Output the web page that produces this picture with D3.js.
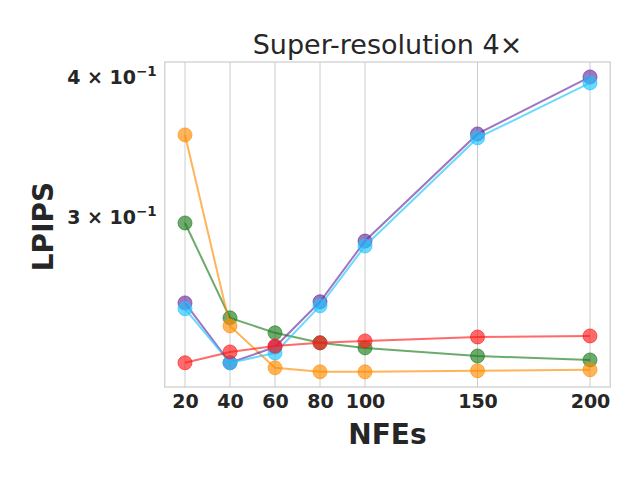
<!DOCTYPE html>
<html>
<head>
<meta charset="utf-8">
<script src="https://cdn.jsdelivr.net/npm/d3@7"></script>
<style>
  body { margin: 0; background: #fff; }
  text { font-family: "DejaVu Sans", sans-serif; fill: #262626; }
</style>
</head>
<body>
<div id="vis"></div>
<script>
// data
const NFES = [20, 40, 60, 80, 100, 150, 200];
const X_TICKS = [20, 40, 60, 80, 100, 150, 200];
const Y_TICKS = [0.3, 0.4];
const Y_TICK_LABELS = ["3", "4"];

const GREEN_VALS  = [0.2963, 0.2438, 0.2364, 0.2316, 0.2292, 0.2254, 0.2236];
const ORANGE_VALS = [0.3551, 0.2398, 0.2200, 0.2182, 0.2182, 0.2187, 0.2191];
const PURPLE_VALS = [0.2514, 0.2223, 0.2296, 0.2520, 0.2855, 0.3558, 0.4000];
const CYAN_VALS   = [0.2484, 0.2223, 0.2268, 0.2499, 0.2826, 0.3529, 0.3951];
const RED_VALS    = [0.2223, 0.2273, 0.2301, 0.2316, 0.2325, 0.2344, 0.2349];

const SERIES = [
  {vals: GREEN_VALS,  color: "#1e7d1e"},
  {vals: ORANGE_VALS, color: "#ff8c00"},
  {vals: PURPLE_VALS, color: "#6a2e9e"},
  {vals: CYAN_VALS,   color: "#1ec4ff"},
  {vals: RED_VALS,    color: "#ff1a1a"}
];

// frame
const FRAME_WIDTH = 640;
const FRAME_HEIGHT = 480;
const PLOT = {left: 164.75, right: 610.25, top: 62, bottom: 387};

const SVG = d3.select("#vis")
              .append("svg")
                .attr("width", FRAME_WIDTH)
                .attr("height", FRAME_HEIGHT);

// scales
const X_SCALE = d3.scaleLinear()
                  .domain([11, 209])
                  .range([PLOT.left, PLOT.right]);

const Y_SCALE = d3.scaleLog()
                  .domain([0.2115, 0.4125])
                  .range([PLOT.bottom, PLOT.top]);

// vertical grid lines
SVG.append("g")
    .selectAll("line")
    .data(X_TICKS)
    .enter()
    .append("line")
      .attr("x1", d => X_SCALE(d))
      .attr("x2", d => X_SCALE(d))
      .attr("y1", PLOT.top)
      .attr("y2", PLOT.bottom)
      .attr("stroke", "#cccccc")
      .attr("stroke-width", 1);

// frame border
SVG.append("rect")
    .attr("x", PLOT.left)
    .attr("y", PLOT.top)
    .attr("width", PLOT.right - PLOT.left)
    .attr("height", PLOT.bottom - PLOT.top)
    .attr("fill", "none")
    .attr("stroke", "#cccccc")
    .attr("stroke-width", 1.2);

// x axis labels
const X_AXIS = SVG.append("g")
    .attr("transform", "translate(0," + PLOT.bottom + ")")
    .call(d3.axisBottom(X_SCALE).tickValues(X_TICKS).tickSize(0).tickPadding(8));
X_AXIS.select(".domain").remove();
X_AXIS.attr("font-family", null).attr("font-size", null);
X_AXIS.selectAll("text")
    .style("font-family", "DejaVu Sans")
    .style("font-size", "19px")
    .style("font-weight", "bold")
    .style("fill", "#262626");

// y axis labels (log formatted)
const Y_LABELS = SVG.append("g")
    .selectAll("text")
    .data(Y_TICKS)
    .enter()
    .append("text")
      .attr("x", PLOT.left - 8)
      .attr("y", d => Y_SCALE(d) + 7)
      .attr("text-anchor", "end")
      .style("font-size", "19px")
      .style("font-weight", "bold");
Y_LABELS.append("tspan").text((d, i) => Y_TICK_LABELS[i] + " \u00d7 10");
Y_LABELS.append("tspan")
    .attr("dy", -8)
    .style("font-size", "13.5px")
    .text("\u22121");

// lines and markers
const LINE = d3.line()
               .x((d, i) => X_SCALE(NFES[i]))
               .y(d => Y_SCALE(d));

SERIES.forEach((s) => {
  const g = SVG.append("g");
  g.append("path")
      .datum(s.vals)
      .attr("d", LINE)
      .attr("fill", "none")
      .attr("stroke", s.color)
      .attr("stroke-opacity", 0.65)
      .attr("stroke-width", 2);
  g.selectAll("circle")
      .data(s.vals)
      .enter()
      .append("circle")
        .attr("cx", (d, i) => X_SCALE(NFES[i]))
        .attr("cy", d => Y_SCALE(d))
        .attr("r", 7)
        .attr("fill", s.color)
        .attr("fill-opacity", 0.65)
        .attr("stroke", s.color)
        .attr("stroke-opacity", 0.65)
        .attr("stroke-width", 1);
});

// title and axis titles
SVG.append("text")
    .attr("x", (PLOT.left + PLOT.right) / 2)
    .attr("y", 54)
    .attr("text-anchor", "middle")
    .style("font-size", "27px")
    .text("Super-resolution 4\u00d7");

SVG.append("text")
    .attr("x", (PLOT.left + PLOT.right) / 2)
    .attr("y", 444)
    .attr("text-anchor", "middle")
    .style("font-size", "28px")
    .style("font-weight", "bold")
    .text("NFEs");

SVG.append("text")
    .attr("transform", "translate(53," + ((PLOT.top + PLOT.bottom) / 2 + 2) + ") rotate(-90)")
    .attr("text-anchor", "middle")
    .style("font-size", "28px")
    .style("font-weight", "bold")
    .text("LPIPS");
</script>
</body>
</html>
